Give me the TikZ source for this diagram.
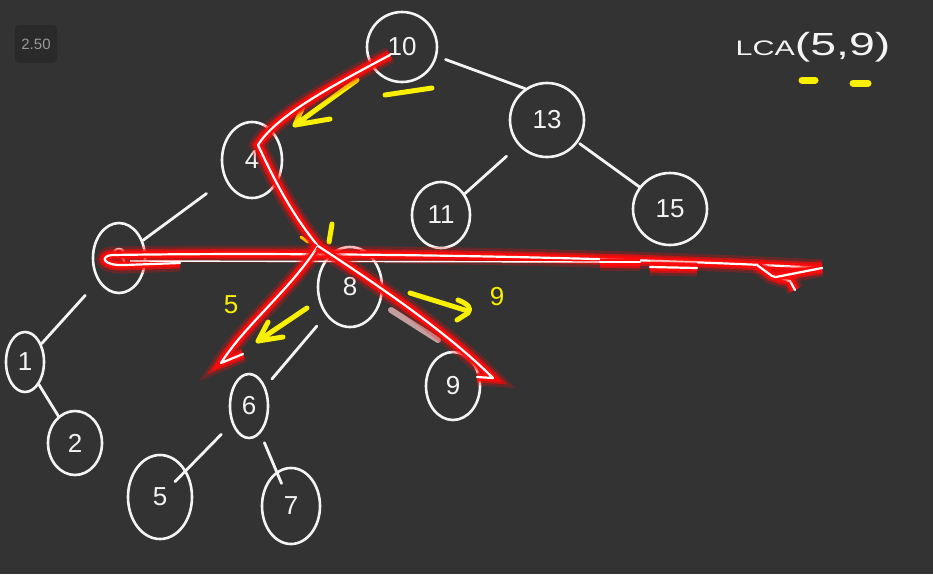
\documentclass[tikz,border=0pt]{standalone}
\usepackage{fontspec}
\setmainfont{Liberation Sans}
\usetikzlibrary{shapes.geometric}
\definecolor{board}{HTML}{333333}
\definecolor{badge}{HTML}{2A2A2A}
\definecolor{chalk}{HTML}{F4F4F4}
\definecolor{penyellow}{HTML}{F8F000}
\definecolor{glow}{HTML}{FF0A0A}

\begin{document}
\begin{tikzpicture}[x=1pt, y=-1pt]

% board and margins
\fill[board] (0,0) rectangle (933,574);
\useasboundingbox (0,0) rectangle (933,574);

% Define custom styles for the whiteboard
\tikzstyle{bnode} = [ellipse, draw=chalk, line width=2.6pt, text=chalk, inner sep=0pt,
font=\fontsize{26}{26}\selectfont]
\tikzstyle{edge} = [draw=chalk, line width=2.8pt, line cap=round]
\tikzstyle{hilite} = [draw=white, line width=2.2pt, line cap=round, line join=round,
preaction={draw=glow, draw opacity=.25, line width=17pt},
preaction={draw=glow, draw opacity=.6, line width=11pt},
preaction={draw=glow, line width=7pt}]
\tikzstyle{yelpen} = [draw=penyellow, line width=5pt, line cap=round, line join=round]
\tikzstyle{yeltext} = [text=penyellow, font=\fontsize{26}{26}\selectfont]

% speed badge
\node[rounded corners=4pt, fill=badge, minimum width=42pt, minimum height=38pt,
text=gray!80, font=\fontsize{15}{15}\selectfont] (speed) at (36,44) {2.50};

% Nodes of the tree
\node[bnode, minimum width=70pt, minimum height=70pt] (n10) at (402,47) {10};
\node[bnode, minimum width=74pt, minimum height=74pt] (n13) at (547,120) {13};
\node[bnode, minimum width=74pt, minimum height=72pt] (n15) at (670,209) {15};
\node[bnode, minimum width=60pt, minimum height=76pt] (n4) at (252,160) {4};
\node[bnode, minimum width=58pt, minimum height=66pt] (n11) at (441,215) {11};
\node[bnode, minimum width=52pt, minimum height=70pt] (n3) at (119,258) {3};
\node[bnode, minimum width=64pt, minimum height=80pt] (n8) at (350,287) {8};
\node[bnode, minimum width=38pt, minimum height=60pt] (n1) at (25,362) {1};
\node[bnode, minimum width=54pt, minimum height=64pt] (n2) at (75,443) {2};
\node[bnode, minimum width=38pt, minimum height=64pt] (n6) at (249,406) {6};
\node[bnode, minimum width=64pt, minimum height=84pt] (n5) at (160,497) {5};
\node[bnode, minimum width=58pt, minimum height=76pt] (n7) at (291,506) {7};
\node[bnode, minimum width=54pt, minimum height=68pt] (n9) at (453,386) {9};

% Edges of the tree
\draw[edge, shorten <=9pt] (n10.-15) -- (n13.125);
\draw[edge, shorten <=16pt] (n13) -- (n11);
\draw[edge, shorten <=2pt] (n13) -- (n15);
\draw[edge, shorten <=23pt] (n4) -- (n3);
\draw[edge, shorten <=19pt] (n3) -- (n1);
\draw[edge] (n1) -- (n2);
\draw[edge, shorten <=14pt, shorten >=10pt] (n8) -- (n6);
\draw[edge, shorten <=15pt, shorten >=-16pt] (n6) -- (n5);
\draw[edge, shorten <=10pt, shorten >=-13pt] (n6) -- (n7);
\draw[pink!80!white, line width=6pt, line cap=round, opacity=.7] (391,310) -- (438,340);

% LCA heading
\begin{scope}[shift={(813,47)}, xscale=1.45]
\node[text=chalk, transform shape] (lca) at (0,0)
{\fontsize{21}{21}\selectfont LCA\fontsize{32}{32}\selectfont(5,9)};
\end{scope}
\draw[yelpen, line width=7pt] (802,80) -- (815,80);
\draw[yelpen, line width=7pt] (853,83) -- (868,83);

% Yellow marks
\draw[yelpen] (357,80) -- (295,125) -- (330,119);
\draw[yelpen] (295,125) -- (304,104);
\draw[yelpen] (385,95) -- (432,88);
\draw[yelpen] (332,224) -- (329,242);
\draw[yelpen, line width=3pt] (301,237) -- (308,242);
\draw[yelpen] (307,308) -- (258,341) -- (283,337);
\draw[yelpen] (258,341) -- (268,322);
\draw[yelpen] (410,293) -- (468,311);
\draw[yelpen] (458,300) .. controls (468,304) and (472,308) .. (468,313) -- (457,320);
\node[yeltext] (lab5) at (231,305) {5};
\node[yeltext] (lab9) at (497,297) {9};

% Red search path
\coordinate (start) at ([shift={(-12,8)}]n10.center);
\coordinate (bend) at (258,145);
\coordinate (fork) at (318,246);
\coordinate (tipL) at (221,363);
\coordinate (tipR) at ([shift={(40,-8)}]n9.center);
\draw[hilite] (822,268) .. controls (600,256) and (300,252) .. (112,255)
.. controls (100,256) and (102,266) .. (125,265) -- (180,263);
\draw[white, line width=1.4pt] (130,261) -- (600,262);
\draw[hilite] (600,262) -- (640,262);
\draw[hilite] (650,267) -- (697,268);
\draw[hilite] (757,265) -- (772,276) -- (790,281) -- (795,290);
\draw[hilite] (776,277) -- (822,268);
\draw[hilite] (start) .. controls (320,92) and (275,118) .. (bend)
.. controls (272,175) and (290,212) .. (fork);
\draw[hilite] (fork) .. controls (290,290) and (245,325) .. (tipL) -- (243,354);
\draw[hilite] (fork) .. controls (370,280) and (445,330) .. (tipR) -- (477,377);

\end{tikzpicture}
\end{document}
